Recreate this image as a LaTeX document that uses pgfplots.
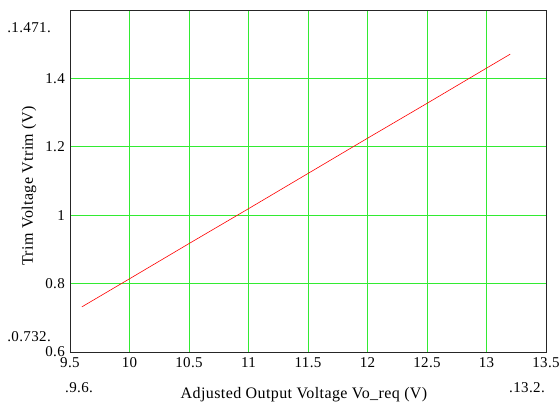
\documentclass[border=0pt]{standalone}
\usepackage{fontspec}
\setmainfont{Liberation Serif}[LetterSpace=2.5]
\usepackage{pgfplots}
\pgfplotsset{compat=1.18}
\definecolor{gridgreen}{RGB}{50,235,50}
\begin{document}
\fontsize{15}{18}\selectfont
\begin{tikzpicture}[x=1pt,y=1pt]
\useasboundingbox (0,0) rectangle (560,409);
\begin{axis}[
  at={(70pt,57pt)}, anchor=south west,
  scale only axis, width=476pt, height=342pt,
  xmin=9.5, xmax=13.5, ymin=0.6, ymax=1.6,
  xtick={9.5,10,10.5,11,11.5,12,12.5,13,13.5},
  ytick={0.6,0.8,1,1.2,1.4},
  grid=major,
  major grid style={draw=gridgreen, line width=0.9pt},
  tick style={draw=none},
  axis line style={draw=black!85, line width=0.9pt},
  /pgf/number format/assume math mode=true,
  ticklabel style={font=\fontsize{15}{18}\selectfont},
  xticklabel style={yshift=0pt},
  yticklabel style={xshift=0pt},
]
\addplot[red, line width=0.6pt] coordinates {
(9.6,0.732) (10,0.814) (10.5,0.917) (11,1.019) (11.5,1.122)
(12,1.225) (12.5,1.327) (13,1.430) (13.2,1.471)
};
\end{axis}
\node at (29,381) {.1.471.};
\node at (29,72) {.0.732.};
\node at (79,21) {.9.6.};
\node at (527,21) {.13.2.};
\node[font=\fontsize{16}{19}\selectfont] at (304,14) {Adjusted Output Voltage Vo\_req (V)};
\node[font=\fontsize{16}{19}\selectfont, rotate=90] at (29,223) {Trim Voltage Vtrim (V)};
\end{tikzpicture}
\end{document}
